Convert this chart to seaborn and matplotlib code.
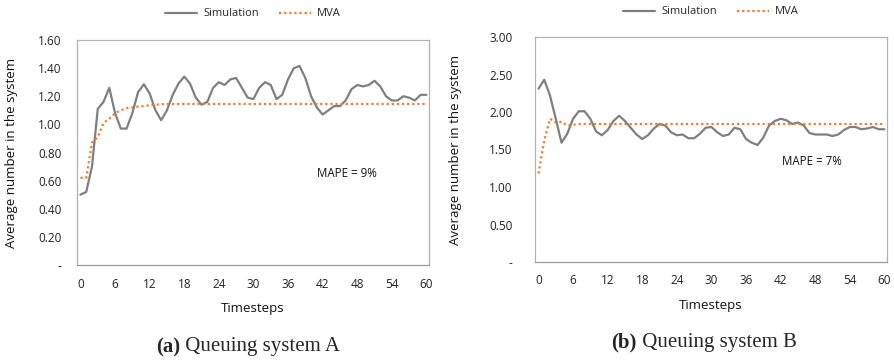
import numpy as np
import pandas as pd
import matplotlib
matplotlib.use("Agg")
import matplotlib.pyplot as plt
import seaborn as sns

timesteps = list(range(61))

sim_a = [0.50, 0.52, 0.70, 1.11, 1.16, 1.26, 1.08, 0.97, 0.97, 1.08,
         1.23, 1.285, 1.22, 1.10, 1.03, 1.10, 1.21, 1.29, 1.34, 1.29,
         1.19, 1.14, 1.16, 1.26, 1.30, 1.28, 1.32, 1.33, 1.26, 1.19,
         1.18, 1.26, 1.30, 1.28, 1.18, 1.21, 1.32, 1.40, 1.415, 1.33,
         1.20, 1.12, 1.07, 1.10, 1.13, 1.13, 1.17, 1.25, 1.28, 1.27,
         1.28, 1.31, 1.27, 1.20, 1.17, 1.17, 1.20, 1.19, 1.17, 1.21, 1.21]
mva_a = [0.62, 0.62, 0.87, 0.91, 1.01, 1.04, 1.08, 1.10, 1.115, 1.12,
         1.127, 1.13, 1.136, 1.14, 1.143] + [1.145] * 46

sim_b = [2.31, 2.43, 2.22, 1.91, 1.59, 1.71, 1.91, 2.01, 2.01, 1.91,
         1.74, 1.69, 1.76, 1.88, 1.95, 1.88, 1.79, 1.70, 1.64, 1.69,
         1.78, 1.84, 1.82, 1.73, 1.69, 1.70, 1.65, 1.65, 1.71, 1.79,
         1.80, 1.73, 1.68, 1.70, 1.79, 1.77, 1.64, 1.59, 1.56, 1.66,
         1.82, 1.88, 1.91, 1.89, 1.84, 1.86, 1.82, 1.72, 1.70, 1.70,
         1.70, 1.68, 1.70, 1.76, 1.80, 1.80, 1.77, 1.78, 1.80, 1.77, 1.77]
mva_b = [1.18, 1.62, 1.91, 1.86, 1.87, 1.82, 1.83] + [1.84] * 54

series_names = ["Simulation", "MVA"]
x_ticks = list(range(0, 61, 6))
y_ticks_a = [0, 0.2, 0.4, 0.6, 0.8, 1.0, 1.2, 1.4, 1.6]
y_ticks_b = [0, 0.5, 1.0, 1.5, 2.0, 2.5, 3.0]
mape_labels = ["MAPE = 9%", "MAPE = 7%"]
captions = [("(a)", " Queuing system A"), ("(b)", " Queuing system B")]

sns.set_style("white")
plt.rcParams["font.family"] = ["Open Sans", "DejaVu Sans"]

SIM_COLOR = "#7f7f7f"
MVA_COLOR = "#ED7D31"
SPINE = "#b0b0b0"

fig = plt.figure(figsize=(8.94, 3.6), dpi=100)
ax_a = fig.add_axes([77 / 894, 1 - 265 / 360, 352 / 894, 225 / 360])
ax_b = fig.add_axes([535 / 894, 1 - 262 / 360, 352 / 894, 225 / 360])

def draw(ax, sim, mva, yticks, ymax, mape, mape_xy, ypad, legend_y, label_x):
    df = pd.DataFrame({"t": timesteps * 2,
                       "v": list(sim) + list(mva),
                       "s": [series_names[0]] * len(sim) + [series_names[1]] * len(mva)})
    sns.lineplot(data=df, x="t", y="v", hue="s", style="s",
                 palette={series_names[0]: SIM_COLOR, series_names[1]: MVA_COLOR},
                 dashes={series_names[0]: "", series_names[1]: (1, 1.3)},
                 linewidth=1.6, ax=ax, legend=True)
    ax.set_xlim(-0.6, 60.45)
    ax.set_ylim(0, ymax)
    ax.set_xticks(x_ticks)
    ax.set_yticks(yticks)
    ax.set_yticklabels(["-"] + [f"{v:.2f}" for v in yticks[1:]])
    ax.tick_params(axis="both", length=0, labelsize=8.5, colors="#222222")
    ax.tick_params(axis="y", pad=ypad)
    ax.tick_params(axis="x", pad=9)
    for sp in ax.spines.values():
        sp.set_color(SPINE)
        sp.set_linewidth(0.9)
    ax.spines["bottom"].set_color("#999999")
    ax.set_xlabel("Timesteps", fontsize=9.5, labelpad=8, color="#111111")
    ax.set_ylabel("Average number in the system", fontsize=9.5, color="#111111")
    ax.yaxis.set_label_coords(label_x, 0.5)
    ax.text(mape_xy[0], mape_xy[1], mape, fontsize=8.3, ha="left", va="center", color="#111111")
    handles, labels = ax.get_legend_handles_labels()
    ax.legend(handles, labels, loc="center", bbox_to_anchor=(0.5, legend_y),
              ncol=2, frameon=False, fontsize=8, handlelength=2.9,
              handletextpad=0.55, columnspacing=1.8, borderaxespad=0)

draw(ax_a, sim_a, mva_a, y_ticks_a, 1.6, mape_labels[0], (41, 0.65), 11,
     1 + (40 - 14) / 225, (18 - 77) / 352)
draw(ax_b, sim_b, mva_b, y_ticks_b, 3.0, mape_labels[1], (42.2, 1.34), 16,
     1 + (37 - 12) / 225, (462 - 535) / 352)

def caption(xc, yc, bold, rest):
    t1 = fig.text(0, 0, bold, fontsize=15, fontweight="bold", family="Liberation Serif")
    t2 = fig.text(0, 0, rest, fontsize=15, family="Liberation Serif")
    r = fig.canvas.get_renderer()
    w1 = t1.get_window_extent(r).width
    w2 = t2.get_window_extent(r).width
    x0 = xc - (w1 + w2) / 2
    t1.set_position((x0 / 894, 1 - yc / 360))
    t2.set_position(((x0 + w1) / 894, 1 - yc / 360))
    t1.set_va("center"); t2.set_va("center")

caption(248, 347, *captions[0])
caption(704, 342, *captions[1])

fig.savefig("out.png", dpi=100)
